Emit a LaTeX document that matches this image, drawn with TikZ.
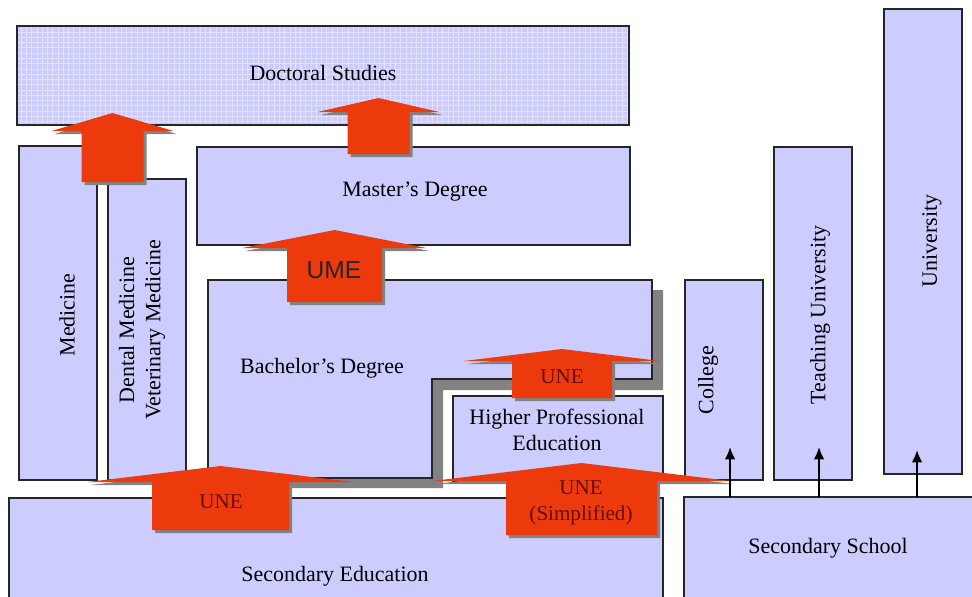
\documentclass[tikz,border=0pt]{standalone}
\usepackage{fontspec}
\setmainfont{Liberation Serif}
\newfontfamily\umefont{Liberation Sans}
\usetikzlibrary{patterns,arrows.meta}
\definecolor{boxfill}{RGB}{204,204,255}
\definecolor{gridline}{RGB}{226,226,255}
\definecolor{arrred}{RGB}{236,58,12}
\definecolor{arrshadow}{RGB}{130,130,130}
\definecolor{unetext}{RGB}{105,12,12}
% block arrow: apex x, apex y, half head, head y, half shaft, foot y
\newcommand{\blockarrow}[6]{%
\foreach \s/\c in {3/arrshadow,0/arrred}
\fill[\c,shift={(\s,\s)}] (#1,#2) -- ({#1+#3},#4) -- ({#1+#5},#4) -- ({#1+#5},#6)
  -- ({#1-#5},#6) -- ({#1-#5},#4) -- ({#1-#3},#4) -- cycle;}
\begin{document}
\begin{tikzpicture}[x=0.02cm, y=-0.02cm, font=\fontsize{12.5}{15}\selectfont,
  box/.style={draw=black!85, line width=0.6pt, fill=boxfill},
  une/.style={font=\fontsize{12}{15}\selectfont, text=unetext, align=center},
  thinarr/.style={-{Latex[length=7pt,width=6pt]}, line width=1.1pt}]
\useasboundingbox (0,0) rectangle (972,596);
\clip (0,0) rectangle (972,596);
% university track
\fill[boxfill] (17,26) rectangle (629,125);
\fill[pattern=grid, pattern color=gridline] (17,26) rectangle (629,125);
\draw[black!85, line width=0.6pt] (17,26) rectangle (629,125);
\node (doc) at (323,73) {Doctoral Studies};
\draw[box] (19,146) rectangle (97,480);
\node[rotate=90] (med) at (67,315) {Medicine};
\draw[box] (108,179) rectangle (186,480);
\node[rotate=90, align=center] (dent) at (142,330) {Dental Medicine\\Veterinary Medicine};
\draw[box] (197,147) rectangle (630,245);
\node (mast) at (415,192) {Master’s Degree};
\fill[arrshadow] (219,290) -- (663,290) -- (663,390) -- (443,390) -- (443,488) -- (219,488) -- cycle;
\draw[box] (208,280) -- (652,280) -- (652,379) -- (432,379) -- (432,478) -- (208,478) -- cycle;
\node (bach) at (322,368) {Bachelor’s Degree};
\draw[box] (453,396) rectangle (663,482);
\node[align=center] (hpe) at (557,430) {Higher Professional\\Education};
\draw[box] (9,498) rectangle (663,610);
\node (secedu) at (335,576) {Secondary Education};
% professional track
\draw[box] (685,280) rectangle (763,480);
\node[rotate=90] (coll) at (708,380) {College};
\draw[box] (774,147) rectangle (852,480);
\node[rotate=90] (teach) at (820,315) {Teaching University};
\draw[box] (884,9) rectangle (962,474);
\node[rotate=90] (uni) at (932,241) {University};
\draw[box] (684,497) rectangle (990,610);
\node (secsch) at (828,548) {Secondary School};
% entry arrows
\blockarrow{112.5}{113}{61}{131}{31}{182}
\blockarrow{378.5}{98}{61}{112}{31}{154}
\blockarrow{334.5}{230}{92}{248}{47.5}{302}
\node[font=\umefont\fontsize{14}{16}\selectfont, text=black!85] (ume) at (334,270) {UME};
\blockarrow{562}{349}{98}{361}{50}{398}
\node[une] (une1) at (562,377) {UNE};
\blockarrow{581.5}{463}{149}{481}{75.5}{535}
\node[une] (une2) at (581,503) {UNE\\(Simplified)};
\blockarrow{220.5}{466}{133}{482}{68.5}{530}
\node[une] (une3) at (221,502) {UNE};
\coordinate (sstop) at (684,497);
\coordinate (colltip) at (730,447);
\coordinate (teachtip) at (819,447);
\coordinate (unitip) at (917,450);
\foreach \t in {colltip,teachtip,unitip}
\draw[thinarr] (\t |- sstop) -- (\t);
\end{tikzpicture}
\end{document}
